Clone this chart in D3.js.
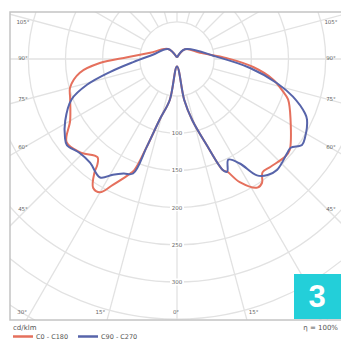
<!DOCTYPE html>
<html>
<head>
<meta charset="utf-8">
<script src="https://cdn.jsdelivr.net/npm/d3@7"></script>
<style>
    body { margin: 0; background: #fff; }
    svg { display: block; font-family: "DejaVu Sans", sans-serif; }
</style>
</head>
<body>
<svg id="chart" width="341" height="340"></svg>
<script>
// angles from nadir (deg), intensity in cd/klm
let c180Angles = [0, 10, 16, 19, 21, 23, 27, 30, 33, 36, 37, 39, 46, 53, 60, 70, 75, 82, 87, 92, 103, 138, 180];
let c180Values = [10, 56, 85, 125, 160, 170, 190, 207, 207, 189, 178, 170, 181, 186, 166, 153, 149, 132, 104, 67, 37, 18, 2];
let c0Angles = [0, 10, 14, 19, 22.5, 24, 27, 32, 34.5, 37, 41, 48, 51, 62, 70, 73, 78, 84, 91, 105, 141, 180];
let c0Values = [10, 56, 85, 122, 162, 166, 186, 204, 202, 191, 192, 196, 195, 173, 159, 149, 132, 103, 67, 32, 17, 2];
let c270Angles = [0, 10, 16, 19, 21, 25, 29, 33, 40, 46, 52, 55, 61, 69, 74, 79, 86, 100, 138, 180];
let c270Values = [10, 56, 85, 125, 165, 170, 178, 190, 182, 182, 188, 184, 172, 152, 126, 92, 59, 33, 18, 2];
let c90Angles = [0, 10, 14, 19, 22.5, 24, 27, 31, 34.5, 38, 42, 49.5, 52, 55.5, 58.5, 65, 67, 72, 76.5, 83, 93, 141, 180];
let c90Values = [10, 56, 85, 122, 162, 166, 152, 164, 190, 198, 201, 195, 194, 204, 202, 193, 187, 164, 138, 99, 54, 17, 2];

let ringValues = [50, 100, 150, 200, 250, 300, 350, 400, 450];
let ringLabels = [100, 150, 200, 250, 300];
let radialAngles = [0, 15, 30, 45, 60, 75, 90, 105, 120, 135, 150, 165, 180];
let sideLabels = [105, 90, 75, 60, 45];
let bottomLabels = [30, 15, 0];
let legendNames = ["C0 - C180", "C90 - C270"];
let legendColors = ["#e5705d", "#5764aa"];

let svg = d3.select("#chart");
let frame = {left: 10, top: 12, right: 341, bottom: 320};
let cx = 177, cy = 59;

let r = d3.scaleLinear().domain([0, 300]).range([0, 223]);
let rad = d => d * Math.PI / 180;

svg.append("clipPath").attr("id", "frameClip")
    .append("rect")
    .attr("x", frame.left).attr("y", frame.top)
    .attr("width", frame.right - frame.left).attr("height", frame.bottom - frame.top);

//clip on the outer group so the rect stays in page coordinates
let grid = svg.append("g")
    .attr("clip-path", "url(#frameClip)")
    .append("g")
    .attr("transform", "translate(" + cx + "," + cy + ")");

//rings
grid.selectAll("circle")
    .data(ringValues)
    .enter()
    .append("circle")
    .attr("r", d => r(d))
    .attr("fill", "none")
    .attr("stroke", "#e2e2e2")
    .attr("stroke-width", 1.3);

//radial lines on both sides
let spokes = [];
radialAngles.forEach(a => { spokes.push(a); if (a > 0 && a < 180) spokes.push(-a); });
grid.selectAll("line.spoke")
    .data(spokes)
    .enter()
    .append("line")
    .attr("class", "spoke")
    .attr("x1", d => r(50) * Math.sin(rad(d)))
    .attr("y1", d => r(50) * Math.cos(rad(d)))
    .attr("x2", d => r(600) * Math.sin(rad(d)))
    .attr("y2", d => r(600) * Math.cos(rad(d)))
    .attr("stroke", "#e2e2e2")
    .attr("stroke-width", 1.3);

//frame
svg.append("rect")
    .attr("x", frame.left).attr("y", frame.top)
    .attr("width", frame.right - frame.left + 5).attr("height", frame.bottom - frame.top)
    .attr("fill", "none")
    .attr("stroke", "#c4c4c4")
    .attr("stroke-width", 1.5);

//ring labels along nadir
let ringG = svg.append("g").selectAll("g")
    .data(ringLabels)
    .enter()
    .append("g")
    .attr("transform", d => "translate(" + cx + "," + (cy + r(d)) + ")");
ringG.append("rect")
    .attr("x", -7).attr("y", -3.5).attr("width", 14).attr("height", 7)
    .attr("fill", "#fff");
ringG.append("text")
    .attr("text-anchor", "middle")
    .attr("dy", "0.35em")
    .attr("font-size", 5.5)
    .attr("fill", "#666")
    .text(d => d);

//angle labels at the sides
let sideData = [];
sideLabels.forEach(a => {
    sideData.push({a: a, x: 23});
    sideData.push({a: a, x: 331});
});
svg.append("g").selectAll("text")
    .data(sideData)
    .enter()
    .append("text")
    .attr("x", d => d.x)
    .attr("y", d => cy + Math.abs(d.x - cx) / Math.tan(rad(d.a)) + (d.a > 90 ? 4 : (d.a < 60 ? -4 : -1)))
    .attr("text-anchor", "middle")
    .attr("dy", "0.35em")
    .attr("font-size", 5.5)
    .attr("fill", "#666")
    .text(d => d.a + "°");

//angle labels at the bottom
let bottomData = [];
bottomLabels.forEach(a => {
    bottomData.push({a: a, side: -1});
    if (a > 0) bottomData.push({a: a, side: 1});
});
svg.append("g").selectAll("text")
    .data(bottomData)
    .enter()
    .append("text")
    .attr("x", d => cx + d.side * (312 - cy) * Math.tan(rad(d.a)) + (d.a === 0 ? -1 : d.side * 4))
    .attr("y", 312)
    .attr("text-anchor", d => d.a === 0 ? "middle" : (d.side < 0 ? "end" : "start"))
    .attr("dy", "0.35em")
    .attr("font-size", 5.5)
    .attr("fill", "#666")
    .text(d => d.a + "°");

//curves: left half uses C180/C270, right half C0/C90
let curve = d3.lineRadial()
    .angle(d => d.angle)
    .radius(d => r(d.value))
    .curve(d3.curveCatmullRom.alpha(0.5));

function loop(leftAngles, leftValues, rightAngles, rightValues) {
    let pts = [];
    for (let i = leftAngles.length - 1; i >= 0; i--) {
        pts.push({angle: Math.PI + rad(leftAngles[i]), value: leftValues[i]});
    }
    for (let i = 1; i < rightAngles.length; i++) {
        pts.push({angle: Math.PI - rad(rightAngles[i]) + 2 * Math.PI, value: rightValues[i]});
    }
    return pts;
}

let plot = svg.append("g")
    .attr("transform", "translate(" + cx + "," + cy + ")");
plot.append("path")
    .attr("d", curve(loop(c180Angles, c180Values, c0Angles, c0Values)))
    .attr("fill", "none")
    .attr("stroke", legendColors[0])
    .attr("stroke-width", 2);
plot.append("path")
    .attr("d", curve(loop(c270Angles, c270Values, c90Angles, c90Values)))
    .attr("fill", "none")
    .attr("stroke", legendColors[1])
    .attr("stroke-width", 2);

//number badge
svg.append("rect")
    .attr("x", 294).attr("y", 274).attr("width", 47).attr("height", 45)
    .attr("fill", "#23cfd9");
svg.append("text")
    .attr("x", 317).attr("y", 307)
    .attr("text-anchor", "middle")
    .attr("font-family", "Liberation Sans, Arial, sans-serif")
    .attr("font-weight", "bold")
    .attr("font-size", 31)
    .attr("fill", "#fff")
    .text("3");

//units and efficiency
svg.append("text")
    .attr("x", 13).attr("y", 330)
    .attr("font-size", 7)
    .attr("fill", "#555")
    .text("cd/klm");
svg.append("text")
    .attr("x", 338).attr("y", 330)
    .attr("text-anchor", "end")
    .attr("font-size", 7)
    .attr("fill", "#555")
    .text("η = 100%");

//legend
let legend = svg.append("g").selectAll("g")
    .data(legendNames)
    .enter()
    .append("g")
    .attr("transform", (d, i) => "translate(" + (13 + i * 65) + ",336.5)");
legend.append("line")
    .attr("x1", 0).attr("x2", 20)
    .attr("stroke", (d, i) => legendColors[i])
    .attr("stroke-width", 2.5);
legend.append("text")
    .attr("x", 23).attr("y", 2)
    .attr("font-size", 6.5)
    .attr("fill", "#555")
    .text(d => d);
</script>
</body>
</html>
